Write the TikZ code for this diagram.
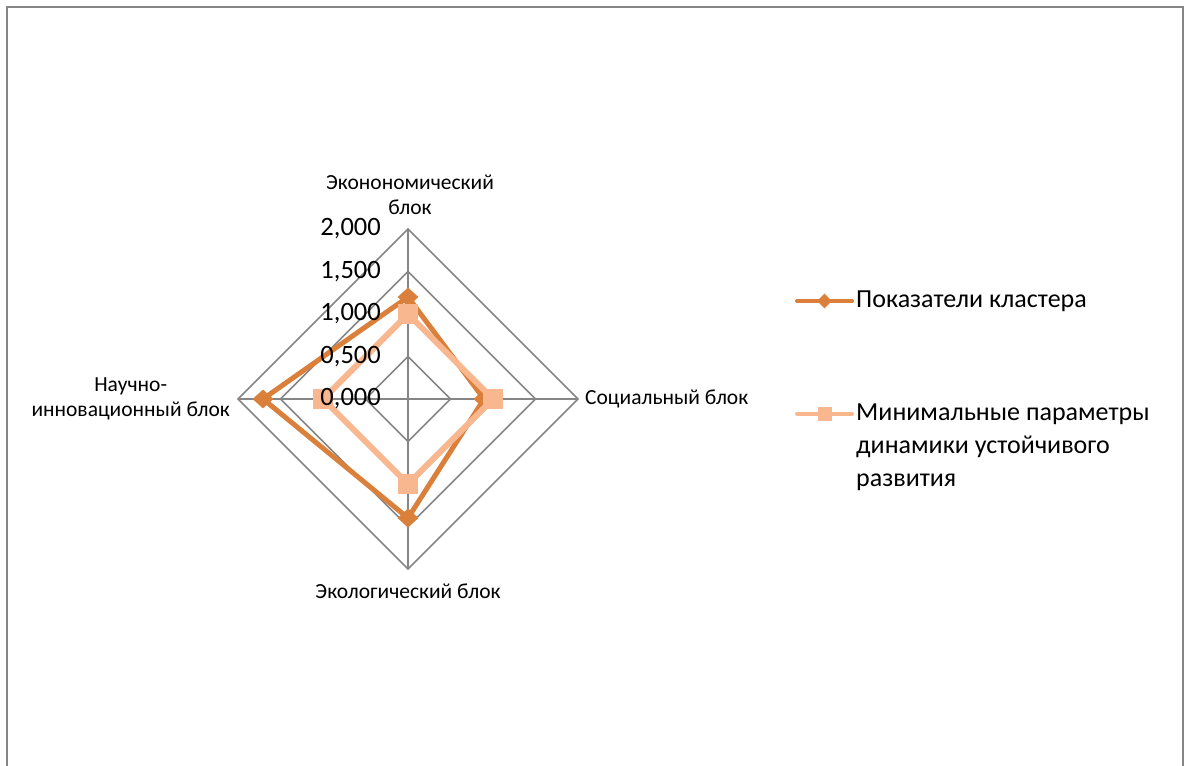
\documentclass[tikz,border=0pt]{standalone}
\usepackage{fontspec}
\setmainfont{Carlito}
\usetikzlibrary{shapes.geometric}
\definecolor{clusterorange}{RGB}{219,128,58}
\definecolor{minpeach}{RGB}{248,183,143}
\definecolor{gridgray}{RGB}{134,134,134}

\begin{document}
\begin{tikzpicture}[x=1pt,y=-1pt]
                \tikzstyle{gridline} = [draw=gridgray, line width=1.5pt]
                \tikzstyle{cluster} = [draw=clusterorange, line width=5pt, line join=round]
                \tikzstyle{minline} = [draw=minpeach, line width=6pt, line join=round]
                \tikzstyle{diamark} = [diamond, fill=clusterorange, inner sep=0pt, minimum width=21pt, minimum height=19pt]
                \tikzstyle{sqmark} = [rectangle, fill=minpeach, inner sep=0pt, minimum size=20pt]
                \tikzstyle{catlabel} = [font=\fontsize{21.5}{25}\selectfont, align=center, inner sep=0pt]
                \tikzstyle{ticklabel} = [font=\fontsize{26.5}{28}\selectfont, anchor=east, inner sep=0pt]
                \tikzstyle{legendtext} = [font=\fontsize{26}{33}\selectfont, align=left, anchor=west, inner sep=0pt]

                \useasboundingbox (0,0) rectangle (1184,766);
                \draw [gridline] (7,766) -- (7,7) -- (1183,7) -- (1183,766);

                % radar grid, 0.5 per ring
                \coordinate (O) at (408,399);
                \coordinate (econ) at (408,229);
                \coordinate (soc) at (578,399);
                \coordinate (ecol) at (408,569);
                \coordinate (nauch) at (238,399);
                \foreach \r in {42.5,85,127.5,170}
                    \draw [gridline, shift={(408,399)}] (0,-\r) -- (\r,0) -- (0,\r) -- (-\r,0) -- cycle;
                \draw [gridline] (econ) -- (ecol);
                \draw [gridline] (nauch) -- (soc);

                % series: cluster indicators
                \node (c1) [diamark] at (408,297) {};
                \node (c2) [diamark] at (484,399) {};
                \node (c3) [diamark] at (408,518) {};
                \node (c4) [diamark] at (263,399) {};
                \draw [cluster] (c1.center) -- (c2.center) -- (c3.center) -- (c4.center) -- cycle;

                % series: minimal parameters
                \node (m1) [sqmark] at (408,314) {};
                \node (m2) [sqmark] at (493,399) {};
                \node (m3) [sqmark] at (408,484) {};
                \node (m4) [sqmark] at (323,399) {};
                \draw [minline] (m1.center) -- (m2.center) -- (m3.center) -- (m4.center) -- cycle;
                \foreach \m in {m1,m2,m3,m4}
                    \node [sqmark] at (\m) {};

                % axis values
                \node (t0) [ticklabel] at (381,399) {0,000};
                \node (t1) [ticklabel] at (381,356.5) {0,500};
                \node (t2) [ticklabel] at (381,314) {1,000};
                \node (t3) [ticklabel] at (381,271.5) {1,500};
                \node (t4) [ticklabel] at (381,229) {2,000};

                % category labels
                \node (leconom) [catlabel] at (410,195) {Эконономический\\блок};
                \node (lsoc) [catlabel, anchor=west] at (585,399) {Социальный блок};
                \node (lecol) [catlabel] at (408,591) {Экологический блок};
                \node (lnauch) [catlabel, anchor=east] at (230,399) {Научно-\\инновационный блок};

                % legend
                \coordinate (k1a) at (797,301);
                \coordinate (k1b) at (852,301);
                \coordinate (k2a) at (797,414);
                \coordinate (k2b) at (852,414);
                \draw [draw=clusterorange, line width=4pt, line cap=round] (k1a) -- (k1b);
                \node (k1m) [diamark, minimum width=15pt, minimum height=15pt] at (824.5,301) {};
                \draw [draw=minpeach, line width=4pt, line cap=round] (k2a) -- (k2b);
                \node (k2m) [sqmark, minimum size=14pt] at (824.5,414) {};
                \node (leg1) [legendtext] at (856,301) {Показатели кластера};
                \node (leg2) [legendtext] at (856,447) {Минимальные параметры\\динамики устойчивого\\развития};
            \end{tikzpicture}
\end{document}
